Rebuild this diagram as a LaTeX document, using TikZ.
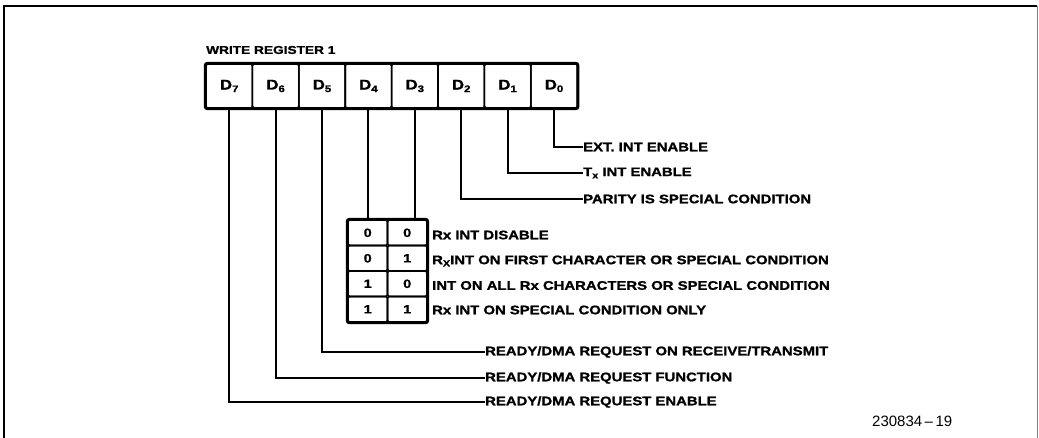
\documentclass[tikz,border=0pt]{standalone}
\usepackage{fontspec}
\setmainfont{Liberation Sans}
\newfontfamily\lblfont{Liberation Sans}[FakeStretch=1.2,FakeBold=1.2]
\usetikzlibrary{positioning}
\tikzset{
% register bits, code table cells, text to the right
bit cell/.style={draw,line width=1.6pt,rounded corners=1.5pt,minimum width=46.4,minimum height=44,inner sep=0pt,font=\lblfont\bfseries\fontsize{14}{14}\selectfont},
code cell/.style={draw,line width=1.6pt,rounded corners=1.5pt,minimum width=39.5,minimum height=25.5,inner sep=0pt,font=\lblfont\bfseries\fontsize{12}{12}\selectfont},
bit label/.style={anchor=west,inner sep=0pt,font=\lblfont\bfseries\fontsize{12.4}{12}\selectfont},
wire/.style={line width=2pt}
}
\newcommand{\bitname}[1]{D\raisebox{-0.35ex}{\fontsize{9.5}{9.5}\selectfont #1}}
\newcommand{\lowx}[1]{\raisebox{-0.35ex}{\fontsize{9}{9}\selectfont #1}}

\begin{document}
\begin{tikzpicture}[x=1pt,y=-1pt]
\useasboundingbox (0,0) rectangle (1039,438);
% page frame
\draw[line width=1.4pt] (4,438) -- (4,6) -- (1037,6);
\draw[gray,line width=0.6pt] (1037,6) -- (1037,438);

\node[bit label,font=\lblfont\bfseries\fontsize{11.4}{11}\selectfont] (title) at (206,50) {WRITE REGISTER 1};

% register bits
\node[bit cell] (d7) at (229.2,86) {\bitname{7}};
\node[bit cell] (d6) at (275.6,86) {\bitname{6}};
\node[bit cell] (d5) at (322.0,86) {\bitname{5}};
\node[bit cell] (d4) at (368.4,86) {\bitname{4}};
\node[bit cell] (d3) at (414.8,86) {\bitname{3}};
\node[bit cell] (d2) at (461.2,86) {\bitname{2}};
\node[bit cell] (d1) at (507.6,86) {\bitname{1}};
\node[bit cell] (d0) at (554.0,86) {\bitname{0}};
\draw[line width=2.6pt,rounded corners=2pt] (d7.north west) rectangle (d0.south east);

% D4/D3 code table
\node[code cell] (c1a) at (367.7,232.8) {0};
\node[code cell] (c1b) at (407.2,232.8) {0};
\node[code cell] (c2a) at (367.7,258.3) {0};
\node[code cell] (c2b) at (407.2,258.3) {1};
\node[code cell] (c3a) at (367.7,283.8) {1};
\node[code cell] (c3b) at (407.2,283.8) {0};
\node[code cell] (c4a) at (367.7,309.3) {1};
\node[code cell] (c4b) at (407.2,309.3) {1};
\draw[line width=2.6pt,rounded corners=2pt] (c1a.north west) rectangle (c4b.south east);

% texts
\node[bit label] (ext) at (583,147) {EXT. INT ENABLE};
\node[bit label] (txint) at (583,173) {T\lowx{x} INT ENABLE};
\node[bit label] (parity) at (583,199) {PARITY IS SPECIAL CONDITION};
\node[bit label] (rxdis) at (432,235) {Rx INT DISABLE};
\node[bit label] (rxfirst) at (432,261) {R\lowx{X}INT ON FIRST CHARACTER OR SPECIAL CONDITION};
\node[bit label] (rxall) at (432,285.5) {INT ON ALL Rx CHARACTERS OR SPECIAL CONDITION};
\node[bit label] (rxspec) at (432,310) {Rx INT ON SPECIAL CONDITION ONLY};
\node[bit label] (rdyrt) at (485,352) {READY/DMA REQUEST ON RECEIVE/TRANSMIT};
\node[bit label] (rdyfn) at (485,378) {READY/DMA REQUEST FUNCTION};
\node[bit label] (rdyen) at (485,402) {READY/DMA REQUEST ENABLE};
\node[anchor=west,inner sep=0pt,font=\fontsize{15}{15}\selectfont] (fig) at (872,421) {230834\,--\,19};

% connectors
\draw[wire] (d0.south) |- (ext.west);
\draw[wire] (d1.south) |- (txint.west);
\draw[wire] (d2.south) |- (parity.west);
\draw[wire] (d3.south) -- (d3.south |- c1b.north);
\draw[wire] (d4.south) -- (d4.south |- c1a.north);
\draw[wire] (d5.south) |- (rdyrt.west);
\draw[wire] (d6.south) |- (rdyfn.west);
\draw[wire] (d7.south) |- (rdyen.west);
\end{tikzpicture}
\end{document}
